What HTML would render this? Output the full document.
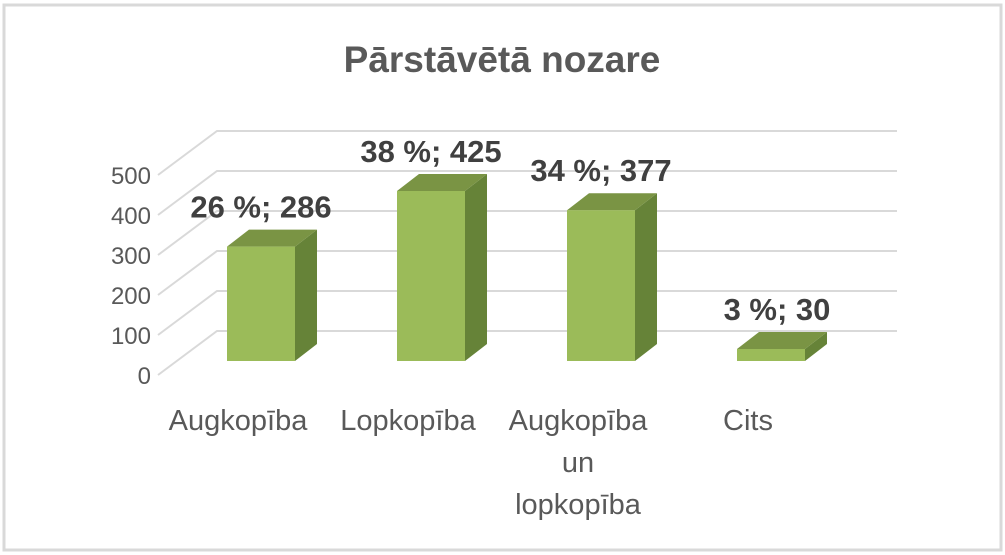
<!DOCTYPE html>
<html><head><meta charset="utf-8"><style>
html,body{margin:0;padding:0;background:#fff;}
svg{display:block;font-family:"Liberation Sans",sans-serif;}
</style></head><body>
<svg width="1005" height="555" viewBox="0 0 1005 555">
<rect x="4" y="5" width="997" height="545" fill="#fff" stroke="#d9d9d9" stroke-width="3"/>
<text x="502" y="72" text-anchor="middle" font-size="37" font-weight="bold" fill="#595959">Pārstāvētā nozare</text>
<g id="grid"></g>
<g id="bars"></g>
<g id="labels"></g>
</svg>
<script>
const categories = [["Augkopība"],["Lopkopība"],["Augkopība","un","lopkopība"],["Cits"]];
const values = [286, 425, 377, 30];
const percents = ["26 %","38 %","34 %","3 %"];
const ticks = [0,100,200,300,400,500];

const NS="http://www.w3.org/2000/svg";
const backY0=331, frontY0=375, scale=0.4, depthX=59, depthY=-44;
const gridLeft=158, gridRight=897;
const barY0=361, barW=68, bdx=22, bdy=-17;
const cx0=261, step=170;
function yBack(v){return backY0 - v*scale;}
function yFront(v){return frontY0 - v*scale;}
function yBar(v){return barY0 - v*scale;}
function xCat(i){return cx0 + i*step;}
function mk(tag,attrs,parent){const e=document.createElementNS(NS,tag);for(const k in attrs)e.setAttribute(k,attrs[k]);parent.appendChild(e);return e;}

const grid=document.getElementById('grid');
ticks.forEach(t=>{
  const p=mk('polyline',{points:`${gridLeft},${yFront(t)} ${gridLeft+depthX},${yBack(t)} ${gridRight},${yBack(t)}`,fill:'none',stroke:'#d9d9d9','stroke-width':2},grid);
  
  
  const tx=mk('text',{x:151,y:yFront(t)+9,'text-anchor':'end','font-size':24,fill:'#595959'},grid);
  tx.textContent=t;
  
  
});

const bars=document.getElementById('bars');
const labels=document.getElementById('labels');
values.forEach((v,i)=>{
  const x=xCat(i)-barW/2, yt=yBar(v);
  const g=mk('g',{},bars);
  
  
  mk('polygon',{points:`${x+barW},${yt} ${x+barW+bdx},${yt+bdy} ${x+barW+bdx},${barY0+bdy} ${x+barW},${barY0}`,fill:'#668338'},g);
  mk('polygon',{points:`${x},${yt} ${x+bdx},${yt+bdy} ${x+barW+bdx},${yt+bdy} ${x+barW},${yt}`,fill:'#7a9444'},g);
  mk('rect',{x:x,y:yt,width:barW,height:barY0-yt,fill:'#9bbb59'},g);
  const dl=mk('text',{x:xCat(i)+(i==3?6:0),y:yt+bdy-12,'text-anchor':'middle','font-size':31,'font-weight':'bold',fill:'#404040'},labels);
  dl.textContent=percents[i]+"; "+v;
  
  
  categories[i].forEach((line,j)=>{
    const ct=mk('text',{x:xCat(i)-23,y:430+j*42,'text-anchor':'middle','font-size':29,fill:'#595959'},labels);
    ct.textContent=line;
    
    
  });
});
</script>
</body></html>
